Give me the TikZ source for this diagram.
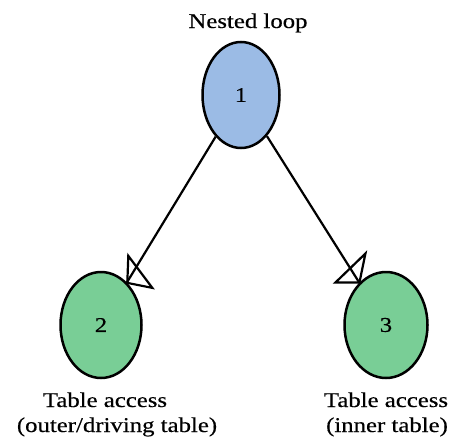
\documentclass[tikz,border=0pt]{standalone}
\usepackage{fontspec}
\setmainfont[FakeStretch=1.18, FakeBold=0.4]{Liberation Serif}
\usetikzlibrary{shapes.geometric}
\definecolor{rootfill}{HTML}{9BBBE5}
\definecolor{leaffill}{HTML}{79CE96}
\tikzset{
  planop/.style={ellipse, draw=black, line width=2.5pt, minimum width=#1, minimum height=106pt, inner sep=0pt, font=\fontsize{21}{23}\selectfont},
  lbl/.style={font=\fontsize{21}{23}\selectfont, inner sep=0pt, anchor=base},
  link/.style={line width=2.2pt},
  openhead/.style={line width=2.2pt, line join=miter}
}
\begin{document}
\begin{tikzpicture}[x=1pt, y=-1pt]
  \useasboundingbox (0,0) rectangle (454,439);
  \node[planop=77pt, fill=rootfill] (n1) at (241,95) {1};
  \node[planop=81pt, fill=leaffill] (n2) at (101,325) {2};
  \node[planop=83pt, fill=leaffill] (n3) at (386,325) {3};
  \node[lbl] (t1) at (248,28) {Nested loop};
  \node[lbl] (t2a) at (105,407) {Table access};
  \node[lbl] (t2b) at (117,432) {(outer/driving table)};
  \node[lbl] (t3a) at (386,407) {Table access};
  \node[lbl] (t3b) at (387,432) {(inner table)};
  % shafts from the loop to both table accesses
  \draw[link] (n1) -- (n2);
  \draw[link] (n1) -- (n3);
  % open heads, tip on the border of the target
  \coordinate (tip2) at (n2.58.7);
  \coordinate (tip3) at (n3.122.2);
  \draw[openhead] (tip2) -- ++(1,-27) -- ++(24,32) -- cycle;
  \draw[openhead] (tip3) -- ++(6,-29) -- ++(-30,29) -- cycle;
\end{tikzpicture}
\end{document}
